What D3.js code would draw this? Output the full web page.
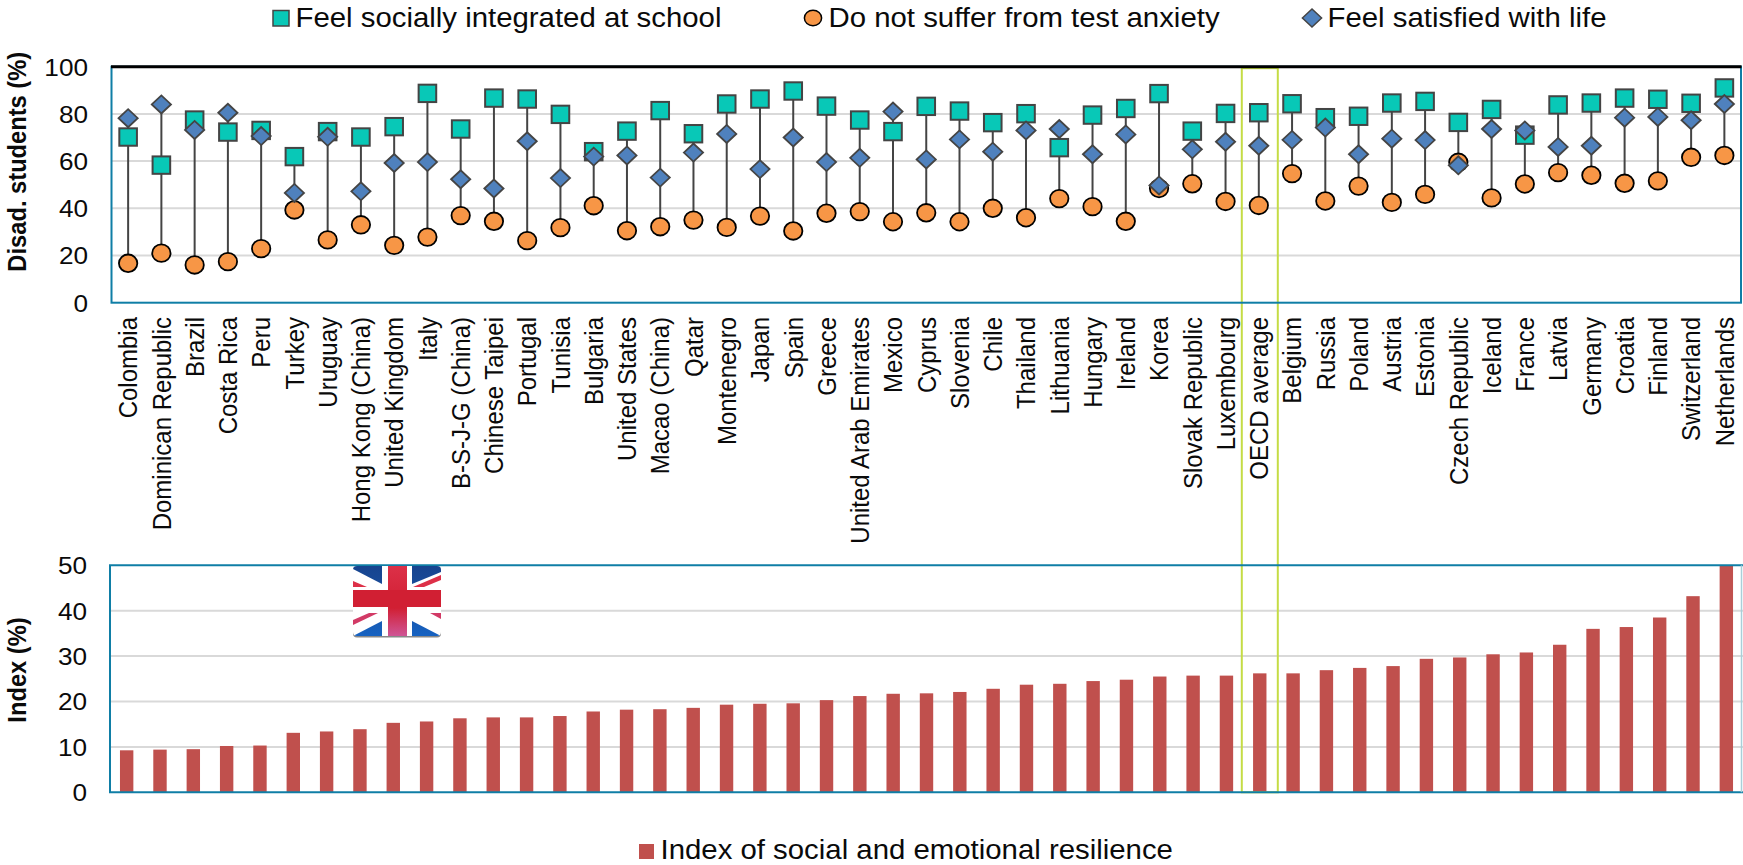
<!DOCTYPE html>
<html>
<head>
<meta charset="utf-8">
<style>
  html, body { margin: 0; padding: 0; background: #fff; overflow: hidden; }
  text { font-family: "Liberation Sans", Arial, sans-serif; fill: #0a0a0a; }
</style>
<script src="https://cdn.jsdelivr.net/npm/d3@7"></script>
</head>
<body>
<div id="chart"></div>
<script>
const countries = ["Colombia","Dominican Republic","Brazil","Costa Rica","Peru","Turkey","Uruguay","Hong Kong (China)","United Kingdom","Italy","B-S-J-G (China)","Chinese Taipei","Portugal","Tunisia","Bulgaria","United States","Macao (China)","Qatar","Montenegro","Japan","Spain","Greece","United Arab Emirates","Mexico","Cyprus","Slovenia","Chile","Thailand","Lithuania","Hungary","Ireland","Korea","Slovak Republic","Luxembourg","OECD average","Belgium","Russia","Poland","Austria","Estonia","Czech Republic","Iceland","France","Latvia","Germany","Croatia","Finland","Switzerland","Netherlands"];

const integrated = [70.2,58.3,77.4,72.3,73,61.9,72.5,70.2,74.6,88.7,73.6,86.7,86.3,79.8,64,72.7,81.4,71.6,84.2,86.3,89.7,83.3,77.4,72.5,83.2,81.2,76.3,80.1,65.7,79.5,82.3,88.6,72.7,80.2,80.5,84.3,78.4,79,84.6,85.3,76.4,81.9,71,83.8,84.6,86.7,86.2,84.5,91];
const noAnxiety = [16.7,21,16,17.4,22.9,39.3,26.6,33,24.3,27.8,36.9,34.5,26.3,31.8,41.1,30.5,32.2,35,31.9,36.7,30.4,37.9,38.6,34.3,38.1,34.3,40,36,44.1,40.7,34.5,48.4,50.4,42.9,41.2,54.7,43.1,49.4,42.5,45.9,59.5,44.4,50.3,55.1,54,50.6,51.6,61.6,62.4];
const satisfied = [78.2,84,73.2,80.5,70.6,46.5,70.3,47.2,59.2,59.6,52.3,48.4,68.4,52.8,61.9,62.4,53,63.6,71.5,56.6,70,59.6,61.4,81,60.7,69.2,64,73,73.6,62.9,71.3,49.7,65,68.2,66.5,69,74.2,62.9,69.5,68.9,58.2,73.6,73,66,66.5,78.4,78.7,77.3,84.2];
const resilience = [9.25,9.4,9.5,10.2,10.3,13.1,13.4,13.9,15.3,15.6,16.3,16.5,16.5,16.8,17.8,18.2,18.3,18.6,19.3,19.5,19.6,20.3,21.2,21.7,21.8,22.1,22.8,23.7,23.9,24.5,24.8,25.5,25.7,25.7,26.2,26.2,26.9,27.4,27.8,29.4,29.7,30.4,30.8,32.5,36,36.4,38.5,43.2,50];

const topTicks = [0,20,40,60,80,100];
const bottomTicks = [0,10,20,30,40,50];

const width = 1743, height = 865;
const stretch = 1.105;  // the original picture is a bit wider than tall
const teal = "#08c8b7", orange = "#f79646", blue = "#4f81bd", red = "#c0504d";
const frame = "#0f7ea6", grid = "#d9d9d9", markerLine = "#444";

const svg = d3.select("#chart").append("svg")
  .attr("width", width)
  .attr("height", height)
  .style("display", "block");

// Scales
const xTop = d3.scaleBand().domain(countries).range([111.5, 1741]);
const yTop = d3.scaleLinear().domain([0, 100]).range([302.7, 66.7]);
const xBot = d3.scaleBand().domain(countries).range([110, 1743]);
const yBot = d3.scaleLinear().domain([0, 50]).range([792.3, 565.3]);
const cx = d => xTop(d) + xTop.bandwidth() / 2;

// Gridlines
function gridlines(y, ticks, x0, x1) {
  svg.append("g").selectAll("line")
    .data(ticks.slice(1, -1))
    .join("line")
    .attr("x1", x0).attr("x2", x1)
    .attr("y1", d => y(d)).attr("y2", d => y(d))
    .attr("stroke", grid)
    .attr("stroke-width", 2);
}
gridlines(yTop, topTicks, 111.5, 1741);
gridlines(yBot, bottomTicks, 110, 1743);

// Y axes
function yAxis(y, ticks, xPos) {
  const g = svg.append("g")
    .attr("transform", `translate(${xPos},0)`)
    .call(d3.axisLeft(y).tickValues(ticks).tickSize(0).tickPadding(0));
  g.select(".domain").remove();
  g.selectAll("text")
    .attr("font-size", "24px")
    .attr("font-family", "Liberation Sans")
    .attr("dy", "0.35em")
    .attr("transform", `scale(1.09,1)`);
}
yAxis(yTop, topTicks, 88);
yAxis(yBot, bottomTicks, 87);

// Axis titles
function yTitle(label, xPos, yPos) {
  svg.append("text")
    .attr("transform", `translate(${xPos},${yPos}) scale(${stretch},1) rotate(-90)`)
    .attr("text-anchor", "middle")
    .attr("font-size", "23.7px")
    .attr("font-weight", "bold")
    .text(label);
}
yTitle("Disad. students (%)", 25.5, 161.7);
yTitle("Index (%)", 25.5, 670);

// Bars
svg.append("g").selectAll("rect")
  .data(countries)
  .join("rect")
  .attr("x", d => xBot(d) + xBot.bandwidth() / 2 - 6.7)
  .attr("width", 13.4)
  .attr("y", (d, i) => yBot(resilience[i]))
  .attr("height", (d, i) => yBot(0) - yBot(resilience[i]))
  .attr("fill", red);

// Range lines
svg.append("g").selectAll("line")
  .data(countries)
  .join("line")
  .attr("x1", cx).attr("x2", cx)
  .attr("y1", (d, i) => yTop(Math.max(integrated[i], noAnxiety[i], satisfied[i])))
  .attr("y2", (d, i) => yTop(Math.min(integrated[i], noAnxiety[i], satisfied[i])))
  .attr("stroke", markerLine)
  .attr("stroke-width", 2);

const diamond = (x, y) => `M${x - 9.6},${y}L${x},${y - 9}L${x + 9.6},${y}L${x},${y + 9}Z`;

// Markers
svg.append("g").selectAll("rect")
  .data(countries)
  .join("rect")
  .attr("x", d => cx(d) - 8.8)
  .attr("y", (d, i) => yTop(integrated[i]) - 8.7)
  .attr("width", 17.6)
  .attr("height", 17.4)
  .attr("fill", teal)
  .attr("stroke", markerLine)
  .attr("stroke-width", 2);

svg.append("g").selectAll("ellipse")
  .data(countries)
  .join("ellipse")
  .attr("cx", cx)
  .attr("cy", (d, i) => yTop(noAnxiety[i]))
  .attr("rx", 9.2)
  .attr("ry", 8.8)
  .attr("fill", orange)
  .attr("stroke", "#000")
  .attr("stroke-width", 1.8);

svg.append("g").selectAll("path")
  .data(countries)
  .join("path")
  .attr("d", (d, i) => diamond(cx(d), yTop(satisfied[i])))
  .attr("fill", blue)
  .attr("stroke", markerLine)
  .attr("stroke-width", 1.8);

// OECD highlight box
svg.append("rect")
  .attr("x", 1241.8).attr("y", yTop(100) + 1.5)
  .attr("width", 36).attr("height", yBot(0) - yTop(100) - 1.5)
  .attr("fill", "none")
  .attr("stroke", "#c5dc45")
  .attr("stroke-width", 2);

// Frames
svg.append("rect")
  .attr("x", 111.5).attr("y", yTop(100))
  .attr("width", 1741 - 111.5).attr("height", yTop(0) - yTop(100))
  .attr("fill", "none").attr("stroke", frame).attr("stroke-width", 2);
svg.append("line")
  .attr("x1", 111).attr("x2", 1741.5)
  .attr("y1", yTop(100)).attr("y2", yTop(100))
  .attr("stroke", "#000").attr("stroke-width", 3);

const botFrame = svg.append("g").attr("stroke", frame).attr("stroke-width", 2);
botFrame.append("line").attr("x1", 110).attr("x2", 110).attr("y1", yBot(50)).attr("y2", yBot(0));
botFrame.append("line").attr("x1", 109).attr("x2", 1743).attr("y1", yBot(50)).attr("y2", yBot(50));
botFrame.append("line").attr("x1", 109).attr("x2", 1743).attr("y1", yBot(0)).attr("y2", yBot(0));
svg.append("line")
  .attr("x1", 1741.5).attr("x2", 1741.5)
  .attr("y1", yBot(50)).attr("y2", yBot(0))
  .attr("stroke", "#a9cfd9").attr("stroke-width", 1.5);

// Country labels
const xAxis = svg.append("g")
  .attr("transform", "translate(0,317)")
  .call(d3.axisBottom(xTop).tickSize(0).tickPadding(0));
xAxis.select(".domain").remove();
xAxis.selectAll("text")
  .attr("font-size", "24px")
  .attr("font-family", "Liberation Sans")
  .attr("text-anchor", "end")
  .attr("y", 0)
  .attr("dy", "0.35em")
  .attr("transform", `scale(${stretch},1) rotate(-90)`);

// Flag
const defs = svg.append("defs");
defs.append("clipPath").attr("id", "flag-clip")
  .append("rect").attr("width", 88).attr("height", 70).attr("rx", 4);
const blueGrad = defs.append("linearGradient").attr("id", "flag-blue")
  .attr("gradientUnits", "userSpaceOnUse")
  .attr("x1", 0).attr("y1", 0).attr("x2", 0).attr("y2", 70);
blueGrad.append("stop").attr("offset", 0).attr("stop-color", "#17448f");
blueGrad.append("stop").attr("offset", 0.45).attr("stop-color", "#1a4f9e");
blueGrad.append("stop").attr("offset", 1).attr("stop-color", "#1662c2");
const redGrad = defs.append("linearGradient").attr("id", "flag-red")
  .attr("x1", 0).attr("y1", 0).attr("x2", 0).attr("y2", 1);
redGrad.append("stop").attr("offset", 0).attr("stop-color", "#dc3048");
redGrad.append("stop").attr("offset", 0.6).attr("stop-color", "#d11f33");
redGrad.append("stop").attr("offset", 1).attr("stop-color", "#cf5596");

svg.append("rect")
  .attr("x", 353).attr("y", 566).attr("width", 88).attr("height", 71.5).attr("rx", 4)
  .attr("fill", "#888");
const flag = svg.append("g")
  .attr("transform", "translate(353,566)")
  .attr("clip-path", "url(#flag-clip)");
flag.append("rect").attr("width", 88).attr("height", 70).attr("fill", "#fff");
const flagBlue = [[[0,0],[29,0],[29,18],[0,3]], [[59,0],[88,0],[88,6],[59,18]], [[0,70],[29,70],[29,55]], [[59,55],[88,70],[59,70]]];
const flagRed = [[[0,15],[14,21],[0,21]], [[60,21],[88,9],[88,14],[71,21]], [[0,59],[25,47],[16,47],[0,54]], [[77,47],[88,47],[88,53]]];
flag.selectAll(".flag-blue").data(flagBlue).join("polygon").attr("class", "flag-blue")
  .attr("points", d => d.join(" ")).attr("fill", "url(#flag-blue)");
flag.selectAll(".flag-red").data(flagRed).join("polygon").attr("class", "flag-red")
  .attr("points", d => d.join(" ")).attr("fill", (d, i) => i < 2 ? "#dd3048" : "#d23a66");
flag.append("rect").attr("x", 35).attr("width", 19).attr("height", 70).attr("fill", "url(#flag-red)");
flag.append("rect").attr("y", 24).attr("width", 88).attr("height", 17).attr("fill", "#d11f33");

// Legends
function legendText(label, x, y) {
  svg.append("text")
    .attr("transform", `translate(${x},${y}) scale(1.068,1)`)
    .attr("font-size", "27.5px")
    .text(label);
}
svg.append("rect").attr("x", 273).attr("y", 10.5).attr("width", 16).attr("height", 15.5)
  .attr("fill", teal).attr("stroke", markerLine).attr("stroke-width", 1.5);
legendText("Feel socially integrated at school", 295.5, 27);

svg.append("ellipse").attr("cx", 813).attr("cy", 18).attr("rx", 8.6).attr("ry", 7.8)
  .attr("fill", orange).attr("stroke", "#000").attr("stroke-width", 1.5);
legendText("Do not suffer from test anxiety", 828.5, 27);

svg.append("path").attr("d", diamond(1312, 18)).attr("fill", blue)
  .attr("stroke", markerLine).attr("stroke-width", 1.5);
legendText("Feel satisfied with life", 1327.5, 27);

svg.append("rect").attr("x", 639).attr("y", 844).attr("width", 15).attr("height", 15).attr("fill", red);
legendText("Index of social and emotional resilience", 660.5, 859);
</script>
</body>
</html>
